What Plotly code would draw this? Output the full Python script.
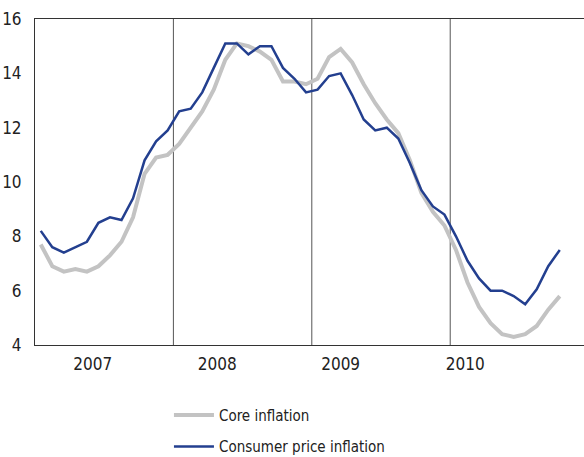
import plotly.graph_objects as go

months = [i + 0.5 for i in range(46)]  # Jan 2007 .. Oct 2010, mid-month

core_inflation = [
    7.7, 6.9, 6.7, 6.8, 6.7, 6.9, 7.3, 7.8, 8.7, 10.3, 10.9, 11.0,
    11.4, 12.0, 12.6, 13.4, 14.5, 15.1, 15.0, 14.8, 14.5, 13.7, 13.7, 13.6,
    13.8, 14.6, 14.9, 14.4, 13.6, 12.9, 12.3, 11.8, 10.8, 9.6, 8.9, 8.4,
    7.5, 6.3, 5.4, 4.8, 4.4, 4.3, 4.4, 4.7, 5.3, 5.8,
]
consumer_price_inflation = [
    8.2, 7.6, 7.4, 7.6, 7.8, 8.5, 8.7, 8.6, 9.4, 10.8, 11.5, 11.9,
    12.6, 12.7, 13.3, 14.2, 15.1, 15.1, 14.7, 15.0, 15.0, 14.2, 13.8, 13.3,
    13.4, 13.9, 14.0, 13.2, 12.3, 11.9, 12.0, 11.6, 10.7, 9.7, 9.1, 8.8,
    8.0, 7.1, 6.45, 6.0, 6.0, 5.8, 5.5, 6.05, 6.9, 7.5,
]
year_labels = ["2007", "2008", "2009", "2010"]
year_label_pos = [5.0, 15.8, 26.5, 37.3]
year_bounds = [12, 24, 36]
y_ticks = [4, 6, 8, 10, 12, 14, 16]

FONT = "DejaVu Sans Condensed, Liberation Sans Narrow, Roboto Condensed, Liberation Sans, sans-serif"

fig = go.Figure()
fig.add_trace(go.Scatter(
    x=months, y=core_inflation, mode="lines", name="Core inflation",
    line=dict(color="#c3c3c3", width=4), legendgroup="core",
))
fig.add_trace(go.Scatter(
    x=months, y=consumer_price_inflation, mode="lines", name="Consumer price inflation",
    line=dict(color="#233f8f", width=2.5), legendgroup="cpi",
))

for b in year_bounds:
    fig.add_shape(type="line", xref="x", yref="paper", x0=b, x1=b, y0=0, y1=1,
                  line=dict(color="#555555", width=1), layer="below")

fig.update_layout(
    width=584, height=457,
    margin=dict(l=35, r=0, t=19, b=112, autoexpand=False),
    paper_bgcolor="white", plot_bgcolor="white",
    font=dict(family=FONT, size=17, color="#222222"),
    showlegend=True,
    legend=dict(
        x=0.244, y=-0.165, xanchor="left", yanchor="top",
        orientation="v", font=dict(family=FONT, size=15, color="#222222"),
        tracegroupgap=9, itemwidth=40, traceorder="grouped",
    ),
    xaxis=dict(
        range=[0, 47.6], tickmode="array", tickvals=year_label_pos, ticktext=year_labels,
        showgrid=False, zeroline=False, ticks="", showline=True, linecolor="#333333",
        linewidth=1, mirror=True, ticklabelstandoff=4, automargin=False,
    ),
    yaxis=dict(
        range=[4, 16], tickmode="array", tickvals=y_ticks,
        showgrid=False, zeroline=False, ticks="", showline=True, linecolor="#333333",
        linewidth=1, ticklabelstandoff=9, automargin=False,
    ),
)

fig.write_html(
    "out.html",
    config={"displayModeBar": False},
    post_script="document.body.style.margin='0';document.body.style.overflow='hidden';",
)
